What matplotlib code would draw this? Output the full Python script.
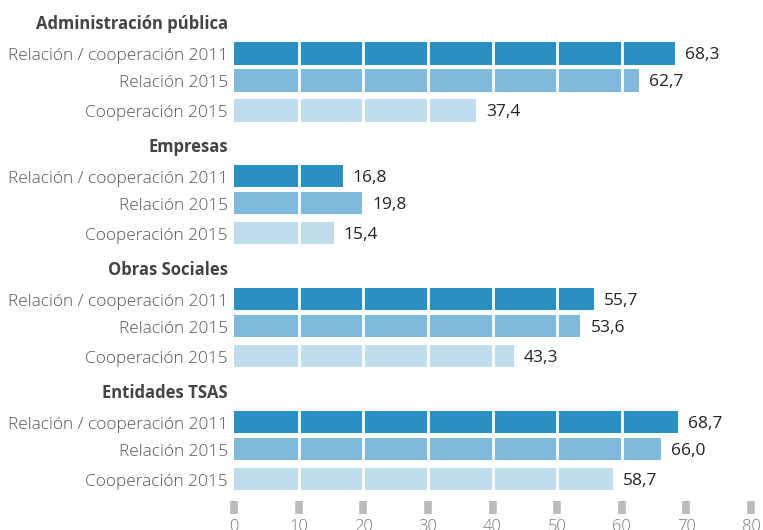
import matplotlib.pyplot as plt
import numpy as np

# data
groups = ["Administración pública", "Empresas", "Obras Sociales", "Entidades TSAS"]
series = ["Relación / cooperación 2011", "Relación 2015", "Cooperación 2015"]
rel_coop_2011 = [68.3, 16.8, 55.7, 68.7]
rel_2015 = [62.7, 19.8, 53.6, 66.0]
coop_2015 = [37.4, 15.4, 43.3, 58.7]
x_ticks = [0, 10, 20, 30, 40, 50, 60, 70, 80]

colors = ["#2a8fc3", "#7fbadb", "#c0ddee"]
font = "Open Sans"

# layout in pixel-like units (figure is 530 px tall)
first_center = 53.3
group_step = 122.9
row_offsets = [0, 27, 57]
bar_h = 22.5

fig = plt.figure(figsize=(7.63, 5.30), dpi=100)
ax = fig.add_axes([234 / 763, 0, 517 / 763, 1])
ax.set_xlim(0, 80)
ax.set_ylim(530, 0)
ax.axis("off")

values = [rel_coop_2011, rel_2015, coop_2015]
for g, name in enumerate(groups):
    base = first_center + g * group_step
    ax.annotate(name, xy=(0, base - 29), xytext=(-6, 0),
                textcoords="offset pixels", ha="right", va="center",
                fontsize=12, fontweight="bold", color="#444444",
                family=font, annotation_clip=False)
    for s, label in enumerate(series):
        y = base + row_offsets[s]
        v = values[s][g]
        ax.barh(y, v, height=bar_h, color=colors[s], zorder=1)
        ax.annotate(label, xy=(0, y), xytext=(-6, -3),
                    textcoords="offset pixels", ha="right", va="center",
                    fontsize=12.4, fontweight="light", color="#555555",
                    family=font, annotation_clip=False)
        ax.annotate(f"{v:.1f}".replace(".", ","), xy=(v, y), xytext=(10, -2),
                    textcoords="offset pixels", ha="left", va="center",
                    fontsize=12.5, color="#222222",
                    family=font, zorder=4, annotation_clip=False)

# white separators across the bars
for t in x_ticks[1:-1]:
    ax.axvline(t, color="white", lw=2, zorder=2)

# grey tick marks and labels at the bottom (labels are cut by the edge, as in the source)
for t in x_ticks:
    ax.plot([t, t], [501, 514], color="#bbbbbb", lw=5.5,
            solid_capstyle="butt", zorder=3, clip_on=False)
    ax.annotate(str(t), xy=(t, 519), ha="center", va="top",
                fontsize=12, fontweight="light", color="#777777",
                family=font, annotation_clip=False)

fig.savefig("out.png", dpi=100)
